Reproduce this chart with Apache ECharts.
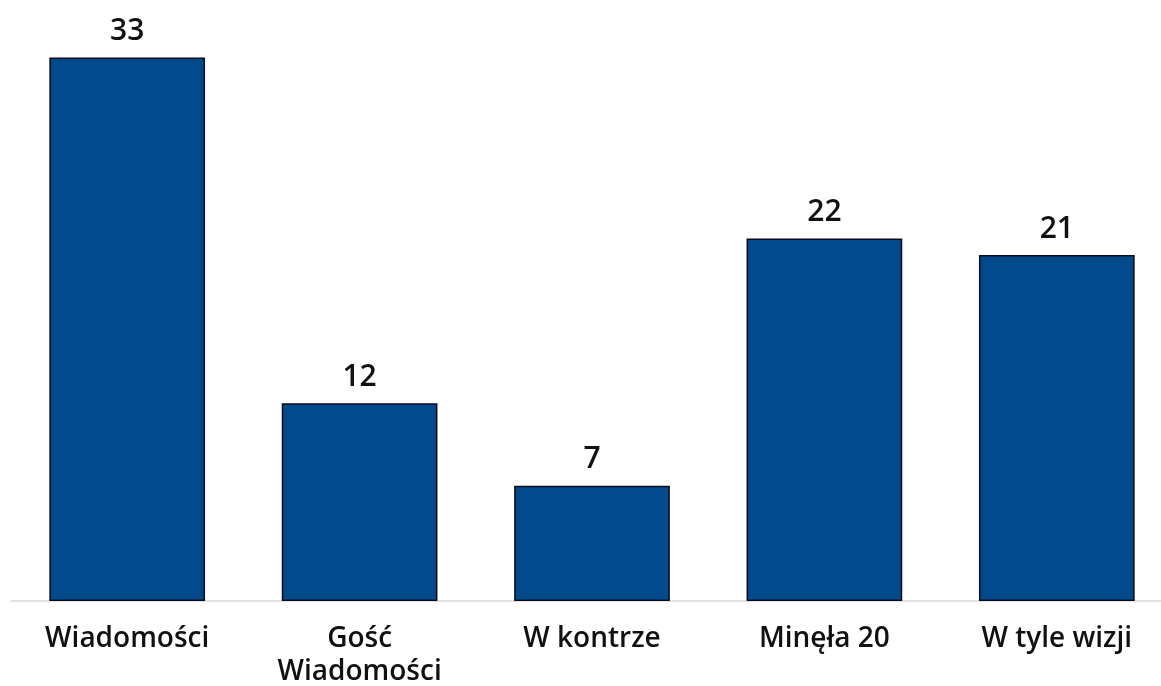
<!DOCTYPE html>
<html>
<head>
<meta charset="utf-8">
<script src="https://cdn.jsdelivr.net/npm/echarts@6/dist/echarts.min.js"></script>
<style>
  html, body { margin: 0; padding: 0; background: #fff; }
  #chart { width: 1161px; height: 686px; }
</style>
</head>
<body>
<div id="chart"></div>
<script>
var categories = ['Wiadomości', 'Gość\nWiadomości', 'W kontrze', 'Minęła 20', 'W tyle wizji'];
var values = [33, 12, 7, 22, 21];

var chart = echarts.init(document.getElementById('chart'));
chart.setOption({
    animation: false,
    grid: {left: 11, top: 8, width: 1162, height: 593, outerBoundsMode: 'none'},
    xAxis: {
        type: 'category',
        data: categories,
        axisTick: {show: false},
        axisLine: {lineStyle: {color: '#d9d9d9', width: 1.5}},
        axisLabel: {
            color: '#111',
            fontFamily: 'Open Sans',
            fontWeight: 600,
            fontSize: 28,
            lineHeight: 33,
            margin: 22,
            interval: 0
        }
    },
    yAxis: {
        type: 'value',
        min: 0,
        max: 36,
        show: false,
        splitLine: {show: false}
    },
    series: [{
        type: 'bar',
        data: values,
        barCategoryGap: '33%',
        itemStyle: {color: '#014a8c', borderColor: '#0a0a1a', borderWidth: 1.5},
        label: {
            show: true,
            position: 'top',
            distance: 11,
            color: '#111',
            fontFamily: 'Open Sans',
            fontWeight: 600,
            fontSize: 30
        }
    }]
});
</script>
</body>
</html>
